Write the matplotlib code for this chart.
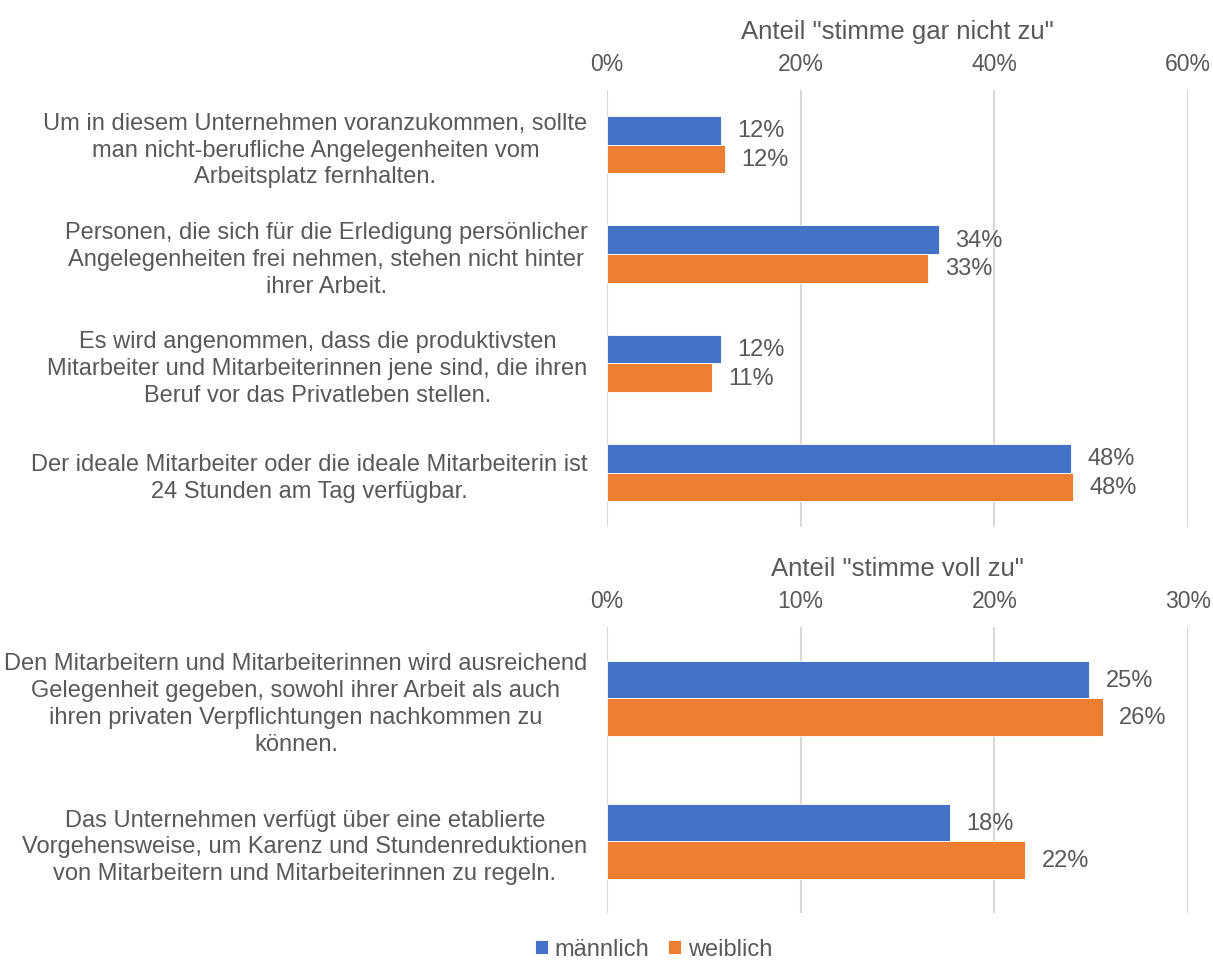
import matplotlib.pyplot as plt
import numpy as np

# Daten
fragen_oben = [
    "Um in diesem Unternehmen voranzukommen, sollte\nman nicht-berufliche Angelegenheiten vom\nArbeitsplatz fernhalten.",
    "Personen, die sich für die Erledigung persönlicher\nAngelegenheiten frei nehmen, stehen nicht hinter\nihrer Arbeit.",
    "Es wird angenommen, dass die produktivsten\nMitarbeiter und Mitarbeiterinnen jene sind, die ihren\nBeruf vor das Privatleben stellen.",
    "Der ideale Mitarbeiter oder die ideale Mitarbeiterin ist\n24 Stunden am Tag verfügbar.",
]
maennlich_oben = [11.8, 34.3, 11.8, 47.9]
weiblich_oben = [12.2, 33.2, 10.8, 48.1]

fragen_unten = [
    "Den Mitarbeitern und Mitarbeiterinnen wird ausreichend\nGelegenheit gegeben, sowohl ihrer Arbeit als auch\nihren privaten Verpflichtungen nachkommen zu\nkönnen.",
    "Das Unternehmen verfügt über eine etablierte\nVorgehensweise, um Karenz und Stundenreduktionen\nvon Mitarbeitern und Mitarbeiterinnen zu regeln.",
]
maennlich_unten = [24.9, 17.7]
weiblich_unten = [25.6, 21.6]

BLAU = '#4472c4'
ORANGE = '#ed7d31'
GRAU = '#595959'

plt.rcParams['font.family'] = ['Liberation Sans', 'DejaVu Sans']

fig = plt.figure(figsize=(12.13, 9.62), dpi=100)
ax1 = fig.add_axes([0.5004, 0.451, 0.479, 0.4543])
ax2 = fig.add_axes([0.5004, 0.0499, 0.479, 0.2973])


def zeichne(ax, fragen, m, w, xmax, schritt, titel, hoehe):
    n = len(fragen)
    y = np.arange(n)
    ax.barh(y - hoehe / 2, m, height=hoehe, color=BLAU, edgecolor='white',
            linewidth=0.6, label='männlich')
    ax.barh(y + hoehe / 2, w, height=hoehe, color=ORANGE, edgecolor='white',
            linewidth=0.6, label='weiblich')
    for yi, v in zip(y, m):
        ax.text(v + xmax * 0.028, yi - hoehe / 2, f'{v:.0f}%', va='center', ha='left',
                fontsize=17, color=GRAU)
    for yi, v in zip(y, w):
        ax.text(v + xmax * 0.028, yi + hoehe / 2, f'{v:.0f}%', va='center', ha='left',
                fontsize=17, color=GRAU)
    ax.set_xlim(0, xmax)
    ax.set_ylim(n - 0.5, -0.5)
    ticks = np.arange(0, xmax + 0.1, schritt)
    ax.set_xticks(ticks)
    ax.set_xticklabels([f'{t:.0f}%' for t in ticks])
    ax.xaxis.tick_top()
    ax.xaxis.set_label_position('top')
    ax.tick_params(axis='x', length=0, labelsize=16.5, labelcolor=GRAU, pad=11)
    ax.set_xlabel(titel, fontsize=18.5, color=GRAU, labelpad=10)
    ax.set_yticks(y)
    ax.set_yticklabels(fragen)
    ax.tick_params(axis='y', length=0, labelsize=17, labelcolor=GRAU, pad=14)
    for lab in ax.get_yticklabels():
        lab.set_multialignment('center')
        lab.set_linespacing(1.28)
    ax.grid(axis='x', color='#d9d9d9', linewidth=1.5)
    ax.set_axisbelow(True)
    for s in ax.spines.values():
        s.set_visible(False)


zeichne(ax1, fragen_oben, maennlich_oben, weiblich_oben, 60, 20,
        'Anteil "stimme gar nicht zu"', 0.262)
zeichne(ax2, fragen_unten, maennlich_unten, weiblich_unten, 30, 10,
        'Anteil "stimme voll zu"', 0.265)

handles, labels = ax1.get_legend_handles_labels()
fig.legend(handles, labels, loc='center', bbox_to_anchor=(0.539, 0.012), ncol=2,
           frameon=False, fontsize=17, labelcolor=GRAU, handlelength=0.55,
           handleheight=0.55, handletextpad=0.3, columnspacing=0.8)

fig.savefig('out.png', dpi=100, facecolor='white')
